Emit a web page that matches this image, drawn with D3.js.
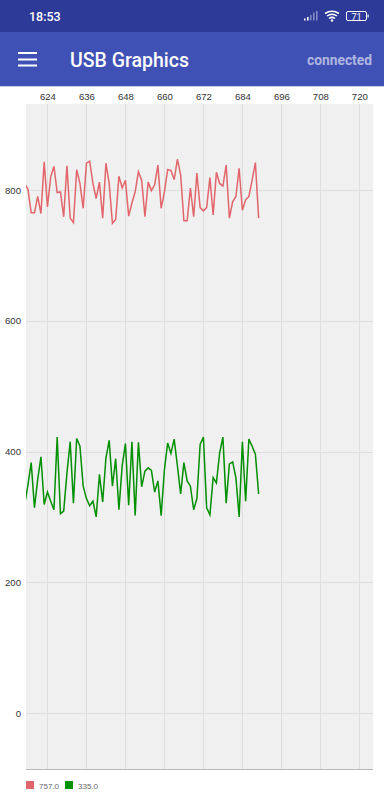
<!DOCTYPE html>
<html>
<head>
<meta charset="utf-8">
<script src="https://cdn.jsdelivr.net/npm/d3@7"></script>
<style>
  html, body { margin: 0; padding: 0; background: #fff; }
  svg { display: block; }
  .tick text { font-family: "Liberation Sans", Arial, sans-serif; font-size: 9.6px; fill: #333; }
  .domain { display: none; }
  .legend { font-family: "Liberation Sans", Arial, sans-serif; font-size: 8px; fill: #666; }
</style>
</head>
<body>
<div id="chart-area"></div>
<script>
// x positions are sample numbers, one reading per sample
const firstSample = 617
const redValues = [810, 801, 765, 765, 790, 764, 843, 774, 820, 836, 796, 797, 759, 837, 757, 750, 831, 810, 772, 841, 844, 810, 787, 812, 757, 841, 810, 749, 755, 821, 803, 815, 760, 780, 797, 828, 815, 759, 812, 799, 808, 838, 772, 797, 831, 830, 816, 847, 823, 753, 753, 803, 759, 826, 773, 768, 773, 819, 762, 827, 810, 806, 838, 757, 782, 790, 833, 769, 785, 790, 815, 842, 757]
const greenValues = [319, 349, 383, 314, 357, 392, 319, 338, 324, 311, 422, 305, 309, 367, 415, 321, 420, 408, 347, 328, 317, 324, 300, 365, 323, 390, 417, 347, 389, 311, 378, 412, 318, 415, 302, 414, 346, 370, 375, 371, 338, 355, 302, 372, 413, 397, 419, 378, 335, 383, 355, 347, 311, 328, 411, 422, 314, 303, 360, 352, 398, 422, 321, 381, 384, 360, 300, 415, 324, 419, 408, 396, 335]
const xTicks = [624, 636, 648, 660, 672, 684, 696, 708, 720]
const yTicks = [0, 200, 400, 600, 800]
const legendLabels = ["757.0", "335.0"]
const seriesColors = ["#e2656b", "#009000"]

let margin = { left: 26, right: 11, top: 104, bottom: 31 }
let width = 384 - margin.left - margin.right
let height = 800 - margin.top - margin.bottom

let svg = d3.select("#chart-area")
  .append("svg")
  .attr("width", 384)
  .attr("height", 800)

// Status bar + app bar
svg.append("rect").attr("width", 384).attr("height", 32).attr("fill", "#2e3a97")
svg.append("rect").attr("y", 32).attr("width", 384).attr("height", 54).attr("fill", "#3f51b5")
svg.append("rect").attr("y", 86).attr("width", 384).attr("height", 1).attr("fill", "#c9cde4")

svg.append("text")
  .attr("x", 29).attr("y", 21)
  .attr("font-family", "Roboto").attr("font-size", "12.5px").attr("font-weight", 500)
  .attr("fill", "#fff")
  .text("18:53")

// signal bars
let bars = [[304, 18.5, 2], [307, 17, 3.5], [310, 15, 5.5], [313, 12.5, 8], [316, 11, 9.5]]
svg.selectAll(".sig").data(bars).enter().append("rect")
  .attr("class", "sig")
  .attr("x", d => d[0]).attr("y", d => d[1])
  .attr("width", 1.6).attr("height", d => d[2])
  .attr("fill", (d, i) => i < 2 ? "#fff" : "#7f89c6")

// wifi
svg.append("path")
  .attr("d", "M325 13.5a13 13 0 0 1 14 0M327 16a9 9 0 0 1 10 0M329 18.5a5 5 0 0 1 6 0")
  .attr("fill", "none").attr("stroke", "#fff").attr("stroke-width", 1.5)
svg.append("circle").attr("cx", 332).attr("cy", 20.5).attr("r", 1.2).attr("fill", "#fff")

// battery
svg.append("rect")
  .attr("x", 346.5).attr("y", 11.5).attr("width", 20).attr("height", 9).attr("rx", 1.5)
  .attr("fill", "none").attr("stroke", "#fff").attr("stroke-width", 1)
svg.append("rect").attr("x", 367.5).attr("y", 14.5).attr("width", 1.2).attr("height", 3).attr("fill", "#fff")
svg.append("text")
  .attr("x", 356.5).attr("y", 19.5).attr("text-anchor", "middle")
  .attr("font-family", "Roboto").attr("font-size", "9px").attr("fill", "#fff")
  .text("71")

// menu icon
svg.selectAll(".burger").data([52, 58.5, 64.5]).enter().append("rect")
  .attr("class", "burger")
  .attr("x", 18).attr("y", d => d).attr("width", 19).attr("height", 2)
  .attr("fill", "#fff")

svg.append("text")
  .attr("x", 70).attr("y", 67)
  .attr("font-family", "Roboto").attr("font-size", "19.5px").attr("font-weight", 500)
  .attr("fill", "#fff")
  .text("USB Graphics")

svg.append("text")
  .attr("x", 372).attr("y", 65).attr("text-anchor", "end")
  .attr("font-family", "Roboto").attr("font-size", "13.8px").attr("font-weight", 700)
  .attr("fill", "#afb7e0")
  .text("connected")

let g = svg.append("g")
  .attr("transform", `translate(${margin.left}, ${margin.top})`)

g.append("rect")
  .attr("width", width)
  .attr("height", height)
  .attr("fill", "#f0f0f0")

// Scales
let x = d3.scaleLinear()
  .domain([617.4, 724.2])
  .range([0, width])

let y = d3.scaleLinear()
  .domain([-85.6, 931.5])
  .range([height, 0])

// Axes, the ticks double as grid lines
let xAxisCall = d3.axisTop(x)
  .tickValues(xTicks)
  .tickSize(-height)
  .tickPadding(4)
  .tickFormat(d3.format("d"))
let xAxisGroup = g.append("g").attr("class", "x-axis").call(xAxisCall)
xAxisGroup.selectAll("line").attr("stroke", "#dedede").attr("shape-rendering", "crispEdges")

let yAxisCall = d3.axisLeft(y)
  .tickValues(yTicks)
  .tickSize(-width)
  .tickPadding(5)
  .tickFormat(d3.format("d"))
let yAxisGroup = g.append("g").attr("class", "y-axis").call(yAxisCall)
yAxisGroup.selectAll("line").attr("stroke", "#dedede").attr("shape-rendering", "crispEdges")

// Bottom line of the plot
g.append("line")
  .attr("x1", 0).attr("x2", width)
  .attr("y1", height).attr("y2", height)
  .attr("stroke", "#b8b8b8").attr("stroke-width", 1)
  .attr("shape-rendering", "crispEdges")

// Lines
g.append("clipPath").attr("id", "plot-clip")
  .append("rect").attr("width", width).attr("height", height)

let line = d3.line()
  .x((d, i) => x(firstSample + i))
  .y(d => y(d))

g.selectAll(".series")
  .data([redValues, greenValues])
  .enter()
  .append("path")
  .attr("class", "series")
  .attr("clip-path", "url(#plot-clip)")
  .attr("fill", "none")
  .attr("stroke", (d, i) => seriesColors[i])
  .attr("stroke-width", 1.5)
  .attr("d", line)

// Legend
let legend = svg.selectAll(".legend-item")
  .data(legendLabels)
  .enter()
  .append("g")
  .attr("class", "legend-item")
  .attr("transform", (d, i) => `translate(${26 + i * 39}, 781)`)

legend.append("rect")
  .attr("width", 8).attr("height", 8)
  .attr("fill", (d, i) => seriesColors[i])

legend.append("text")
  .attr("class", "legend")
  .attr("x", 13).attr("y", 7.5)
  .text(d => d)
</script>
</body>
</html>
